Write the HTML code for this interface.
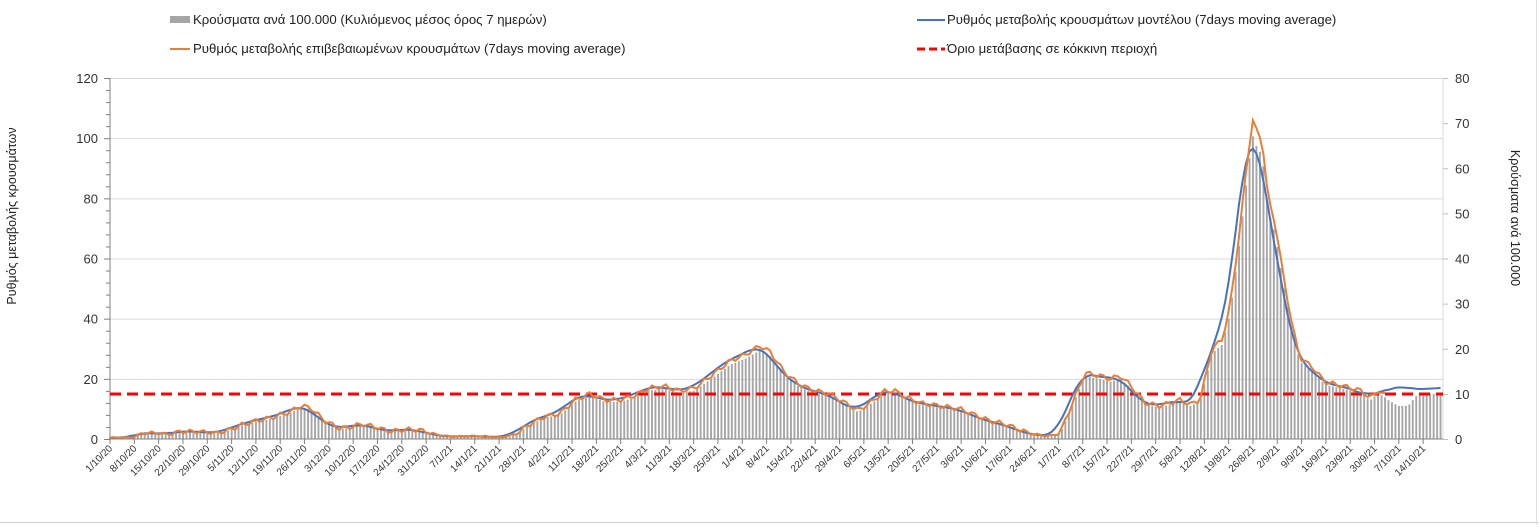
<!DOCTYPE html>
<html><head><meta charset="utf-8"><style>
html,body{margin:0;padding:0;background:#fff;}
body{width:1539px;height:525px;overflow:hidden;font-family:"Liberation Sans",sans-serif;}
</style></head><body>
<svg id="c" width="1539" height="525" xmlns="http://www.w3.org/2000/svg" font-family="Liberation Sans, sans-serif">
<rect x="0" y="0" width="1539" height="525" fill="#fff"/>
<line x1="0" y1="522.5" x2="1539" y2="522.5" stroke="#d0d0d0"/>
<line x1="1536.5" y1="0" x2="1536.5" y2="525" stroke="#e0e0e0"/>
<g id="grid"></g>
<g id="bars"></g>
<g id="axes"></g>
<line x1="110" y1="394" x2="1443" y2="394" stroke="#ff0000" stroke-width="3" stroke-dasharray="11,6"/>
<polyline id="blue" fill="none" stroke="#4472c4" stroke-width="2"/>
<polyline id="orange" fill="none" stroke="#ed7d31" stroke-width="2"/>
<g id="xl" font-size="10" fill="#333"></g>
<rect x="170" y="16" width="20" height="7" fill="#a6a6a6"/>
<text x="193" y="24" font-size="13.2" fill="#222">Κρούσματα ανά 100.000 (Κυλιόμενος μέσος όρος 7 ημερών)</text>
<line x1="170" y1="49" x2="190" y2="49" stroke="#ed7d31" stroke-width="2"/>
<text x="193" y="53" font-size="13.2" fill="#222">Ρυθμός μεταβολής επιβεβαιωμένων κρουσμάτων (7days moving average)</text>
<line x1="917" y1="20" x2="945" y2="20" stroke="#4472c4" stroke-width="2"/>
<text x="947" y="24" font-size="13.2" fill="#222">Ρυθμός μεταβολής κρουσμάτων μοντέλου (7days moving average)</text>
<line x1="917" y1="49" x2="945" y2="49" stroke="#ff0000" stroke-width="3" stroke-dasharray="8,4"/>
<text x="947" y="53" font-size="13.2" fill="#222">Όριο μετάβασης σε κόκκινη περιοχή</text>
<text transform="translate(16,216) rotate(-90)" text-anchor="middle" font-size="12.5" fill="#222">Ρυθμός μεταβολής κρουσμάτων</text>
<text transform="translate(1511,218) rotate(90)" text-anchor="middle" font-size="12.5" fill="#222">Κρούσματα ανά 100.000</text>
</svg>
<script>
var NS="http://www.w3.org/2000/svg";
function el(p,t,a,txt){var e=document.createElementNS(NS,t);for(var k in a)e.setAttribute(k,a[k]);if(txt!==undefined)e.textContent=txt;document.getElementById(p).appendChild(e);return e;}
var X0=110,X1=1443,Y0=439,YT=78,PX=(Y0-YT)/120;
function yl(v){return Y0-v*PX;}
for(var v=20;v<=120;v+=20){el('grid','line',{x1:X0,x2:X1,y1:yl(v)+.5,y2:yl(v)+.5,stroke:'#d9d9d9'});}
el('axes','line',{x1:X0,x2:X0,y1:YT,y2:Y0,stroke:'#808080'});
el('axes','line',{x1:X1,x2:X1,y1:YT,y2:Y0,stroke:'#d9d9d9'});
el('axes','line',{x1:X0,x2:X1,y1:Y0,y2:Y0,stroke:'#808080'});
for(var v=0;v<=120;v+=4){var w=(v%20==0)?6:4;el('axes','line',{x1:X0-w,x2:X0,y1:yl(v)+.5,y2:yl(v)+.5,stroke:'#808080'});}
for(var v=0;v<=120;v+=20){el('axes','text',{x:X0-12,y:yl(v)+5,'text-anchor':'end','font-size':'13',fill:'#333'},String(v));}
for(var r=0;r<=80;r+=10){var y=Y0-r*(Y0-YT)/80;el('axes','line',{x1:X1,x2:X1+5,y1:y+.5,y2:y+.5,stroke:'#bfbfbf'});el('axes','text',{x:X1+12,y:y+5,'font-size':'13',fill:'#333'},String(r));}
var pts=[[110,0.5],[133,0.5],[143,2],[160,2],[168,1.5],[180,2.5],[200,2.5],[215,2],[225,2.5],[240,4.5],[255,6],[270,7],[290,9],[300,11],[310,10.5],[325,6],[340,3.5],[350,4],[362,5],[375,4],[390,2.5],[405,3.2],[420,3],[435,1.5],[450,0.8],[480,1],[500,0.5],[515,1.5],[530,5],[545,7.5],[560,8.5],[575,13],[590,15],[605,13],[620,13],[635,14.5],[650,17],[665,17.5],[680,16],[695,17],[715,22],[730,26],[745,28],[760,31],[770,29],[785,22],[800,18],[815,16],[830,15],[845,12],[858,9.5],[870,12],[885,16],[895,16],[905,14],[920,12],[940,11],[960,10],[975,8],[990,6],[1005,5],[1020,3],[1035,1.5],[1050,1],[1060,2],[1070,10],[1085,22],[1100,21],[1110,20],[1120,21],[1130,18],[1145,12],[1160,11],[1170,12],
[1180,13],[1190,11.5],[1200,13],[1212,30],[1222,33],[1230,44],[1240,70],[1248,95],[1253,106],[1258,101],[1262,100],[1268,80],[1275,72],[1283,55],[1292,38],[1300,27],[1312,24],[1325,19],[1338,18],[1350,17],[1362,16],[1370,13.5],[1378,16],[1388,14]];
function interp(x,arr){if(x<=arr[0][0])return arr[0][1];for(var i=1;i<arr.length;i++){if(x<=arr[i][0]){var a=arr[i-1],b=arr[i];return a[1]+(b[1]-a[1])*(x-a[0])/(b[0]-a[0]);}}return null;}
var D=3.474,N=385,o=[],b=[];
for(var d=0;d<N;d++){var x=X0+d*D;o.push(interp(x,pts));}
var ext=[[1388,16.5],[1405,17.5],[1420,16.5],[1432,16.5],[1443,17.5]];
var oo=o.slice();
for(var d=0;d<N;d++){if(oo[d]==null){var x=X0+d*D;oo[d]=interp(x,ext)||17;}}
for(var d=0;d<N;d++){var s=0,c=0;for(var k=-3;k<=3;k++){var j=d+k+1;if(j>=0&&j<N){s+=oo[j];c++;}}b.push(s/c);}
var bext=[[1388,13],[1398,11],[1408,11],[1418,15],[1443,15]];
var op=[],bp=[];
for(var d=0;d<N;d++){var x=X0+d*D;if(x>X1)break;
 if(o[d]!=null){var n=Math.sin(d*1.7)*0.25*Math.min(o[d],3);op.push(x.toFixed(1)+','+yl(o[d]+n).toFixed(1));}
 bp.push(x.toFixed(1)+','+yl(b[d]).toFixed(1));
 var bv=o[d]!=null?o[d]*0.95:interp(x,bext);
 if(bv>0.3)el('bars','rect',{x:(x-0.9).toFixed(1),y:yl(bv).toFixed(1),width:1.9,height:(bv*PX).toFixed(1),fill:'#a6a6a6'});
}
document.getElementById('orange').setAttribute('points',op.join(' '));
document.getElementById('blue').setAttribute('points',bp.join(' '));
var dt=new Date(2020,9,1,12);
for(var w=0;w<55;w++){var x=X0+w*7*D;var t=new Date(dt.getTime()+w*7*86400000);
 var s=t.getDate()+'/'+(t.getMonth()+1)+'/'+String(t.getFullYear()).slice(2);
 el('axes','line',{x1:x,x2:x,y1:Y0,y2:Y0+5,stroke:'#808080'});
 el('xl','text',{transform:'translate('+(x+3)+','+(Y0+10)+') rotate(-45)','text-anchor':'end'},s);}
</script>
</body></html>
